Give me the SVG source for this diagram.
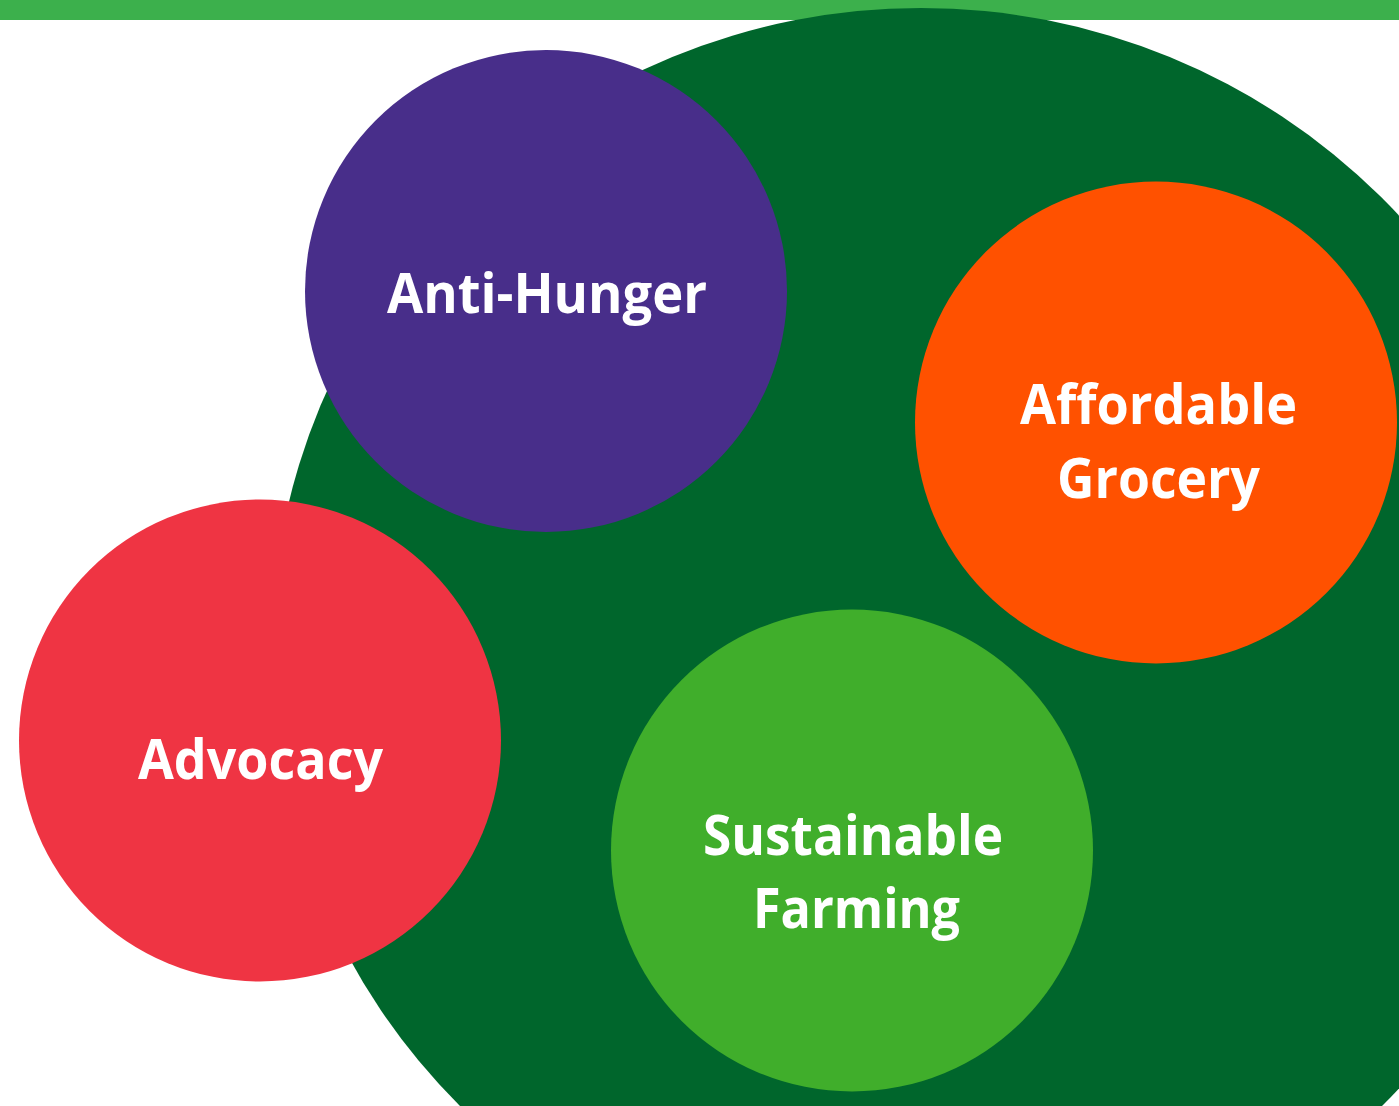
<svg xmlns="http://www.w3.org/2000/svg" width="1399" height="1106" viewBox="0 0 1399 1106">
<style>
.lbl{font-family:"Open Sans","Noto Sans","Liberation Sans",sans-serif;font-weight:700;font-size:56px;fill:#ffffff;text-anchor:middle}
</style>
<rect x="0" y="0" width="1399" height="1106" fill="#ffffff"/>
<rect id="topbar" x="0" y="0" width="1399" height="20" fill="#3CB04C"/>
<ellipse id="background" cx="921" cy="652" rx="650" ry="644" fill="#00662C"/>
<g id="connectors"></g>
<g id="anti-hunger">
<circle cx="546" cy="291" r="241" fill="#482E8A"/>
<text class="lbl" x="547" y="313" textLength="320" lengthAdjust="spacingAndGlyphs">Anti-Hunger</text>
</g>
<g id="affordable-grocery">
<circle cx="1156" cy="422.5" r="241" fill="#FF5100"/>
<text class="lbl" x="1158.5" y="424" textLength="277" lengthAdjust="spacingAndGlyphs">Affordable</text>
<text class="lbl" x="1158.5" y="498" textLength="203" lengthAdjust="spacingAndGlyphs">Grocery</text>
</g>
<g id="advocacy">
<circle cx="260" cy="740.5" r="241" fill="#EF3443"/>
<text class="lbl" x="260.5" y="779" textLength="245" lengthAdjust="spacingAndGlyphs">Advocacy</text>
</g>
<g id="sustainable-farming">
<circle cx="852" cy="850.5" r="241" fill="#40AE2B"/>
<text class="lbl" x="853" y="855" textLength="300" lengthAdjust="spacingAndGlyphs">Sustainable</text>
<text class="lbl" x="856.5" y="928" textLength="207" lengthAdjust="spacingAndGlyphs">Farming</text>
</g>
</svg>
